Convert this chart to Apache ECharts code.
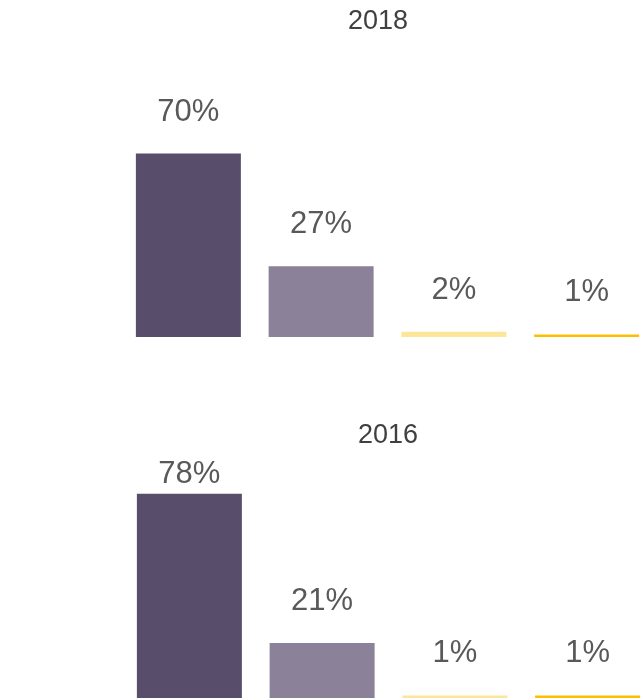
<!DOCTYPE html>
<html>
<head>
<meta charset="utf-8">
<script src="https://cdn.jsdelivr.net/npm/echarts@6/dist/echarts.min.js"></script>
<style>
  html, body { margin: 0; padding: 0; background: #fff; overflow: hidden; }
  #chart { width: 680px; height: 698px; }
</style>
</head>
<body>
<div id="chart"></div>
<script>
// 数据
const categories = ["c1", "c2", "c3", "c4"];
const years = ["2018", "2016"];
const values2018 = [70, 27, 2, 1];
const values2016 = [78, 21, 1, 1];
const barColors = ["#594d6c", "#8b8198", "#fde59a", "#fcc000"];

// 两个面板的位置（画布比窗口宽，右侧裁掉）
const panels = [
  { title: years[0], titleX: 377, titleY: 3, left: 122, top: 75, values: values2018 },
  { title: years[1], titleX: 387, titleY: 417, left: 123, top: 436, values: values2016 }
];

function barData(values, tightIdx) {
  return values.map((v, i) => {
    const item = { value: v, itemStyle: { color: barColors[i] } };
    // 2016 最高柱的标签贴近柱顶（避开标题）
    if (i === tightIdx) item.label = { distance: 4 };
    return item;
  });
}

const chart = echarts.init(document.getElementById("chart"));
chart.setOption({
  backgroundColor: "#fff",
  animation: false,
  title: panels.map((p) => ({
    text: p.title,
    left: p.titleX - 4, top: p.titleY,
    textAlign: "center",
    textStyle: { fontFamily: "Liberation Sans", fontSize: 27, fontWeight: "normal", color: "#404040" }
  })),
  grid: panels.map((p) => ({ left: p.left, top: p.top, width: 531, height: 262 })),
  xAxis: panels.map((p, i) => ({
    type: "category", gridIndex: i, data: categories, show: false
  })),
  yAxis: panels.map((p, i) => ({
    type: "value", gridIndex: i, min: 0, max: 100, show: false
  })),
  series: panels.map((p, i) => ({
    type: "bar", xAxisIndex: i, yAxisIndex: i,
    barWidth: 105,
    data: barData(p.values, i === 1 ? 0 : -1),
    label: {
      show: true, position: "top", distance: 26,
      formatter: "{c}%",
      fontFamily: "Liberation Sans", fontSize: 31, color: "#595959"
    }
  }))
});
</script>
</body>
</html>
